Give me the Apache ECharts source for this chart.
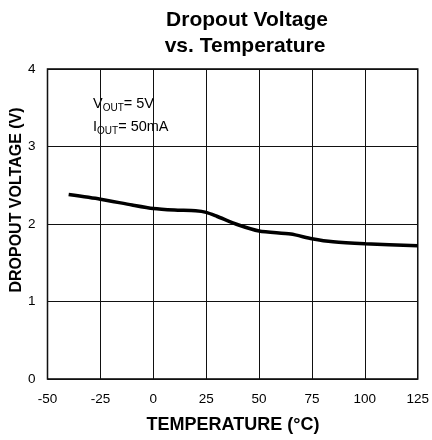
<!DOCTYPE html>
<html><head><meta charset="utf-8">
<script src="https://cdn.jsdelivr.net/npm/echarts@6/dist/echarts.min.js"></script>
<style>html,body{margin:0;padding:0;background:#fff}#c{width:432px;height:440px}</style>
</head><body><div id="c"></div>
<script>
const temps = [-40, -25, -10, 0, 10, 20, 25, 30, 40, 50, 65, 75, 85, 100, 125];
const volts = [2.38, 2.32, 2.245, 2.20, 2.18, 2.17, 2.15, 2.10, 1.99, 1.91, 1.87, 1.81, 1.77, 1.745, 1.72];
const xTicks = [-50, -25, 0, 25, 50, 75, 100, 125];
const yTicks = [0, 1, 2, 3, 4];
const titleLines = ['Dropout Voltage', 'vs. Temperature'];
const xName = 'TEMPERATURE (°C)';
const yName = 'DROPOUT VOLTAGE (V)';

const F = '"Liberation Sans", Arial, Helvetica, sans-serif';
const chart = echarts.init(document.getElementById('c'), null, {renderer: 'canvas'});
chart.setOption({
  animation: false,
  backgroundColor: '#fff',
  grid: {left: 47.5, right: 13.3, top: 69, bottom: 61, show: true, borderColor: '#000', borderWidth: 1.5, containLabel: false},
  xAxis: {
    type: 'value', min: xTicks[0], max: xTicks[xTicks.length - 1], interval: 25,
    axisLine: {show: false}, axisTick: {show: false},
    splitLine: {show: true, lineStyle: {color: '#111', width: 1}},
    axisLabel: {color: '#000', fontSize: 13.5, fontFamily: F, margin: 13}
  },
  yAxis: {
    type: 'value', min: yTicks[0], max: yTicks[yTicks.length - 1], interval: 1,
    axisLine: {show: false}, axisTick: {show: false},
    splitLine: {show: true, lineStyle: {color: '#111', width: 1}},
    axisLabel: {color: '#000', fontSize: 13.5, fontFamily: F, margin: 12}
  },
  series: [{
    type: 'line', data: temps.map((t, i) => [t, volts[i]]),
    showSymbol: false, smooth: 0.25,
    lineStyle: {color: '#000', width: 3.5}
  }],
  graphic: [
    {type: 'text', x: 247, y: 20, style: {text: titleLines[0], font: 'bold 21px ' + F, fill: '#000', textAlign: 'center', textVerticalAlign: 'middle'}},
    {type: 'text', x: 245, y: 46, style: {text: titleLines[1], font: 'bold 21px ' + F, fill: '#000', textAlign: 'center', textVerticalAlign: 'middle'}},
    {type: 'text', x: 233, y: 425, style: {text: xName, font: 'bold 18px ' + F, fill: '#000', textAlign: 'center', textVerticalAlign: 'middle'}},
    {type: 'text', x: 17, y: 200, rotation: Math.PI / 2, style: {text: yName, font: 'bold 16px ' + F, fill: '#000', textAlign: 'center', textVerticalAlign: 'middle'}},
    {type: 'text', x: 93, y: 95, style: {
      text: '{n|V}{s|OUT}{n|= 5V}', fill: '#000',
      rich: {n: {fontSize: 14.5, fontFamily: F, lineHeight: 18, verticalAlign: 'middle', fill: '#000'},
             s: {fontSize: 10, fontFamily: F, lineHeight: 18, verticalAlign: 'bottom', fill: '#000'}}
    }},
    {type: 'text', x: 93, y: 118, style: {
      text: '{n|I}{s|OUT}{n|= 50mA}', fill: '#000',
      rich: {n: {fontSize: 14.5, fontFamily: F, lineHeight: 18, verticalAlign: 'middle', fill: '#000'},
             s: {fontSize: 10, fontFamily: F, lineHeight: 18, verticalAlign: 'bottom', fill: '#000'}}
    }}
  ]
});
</script></body></html>
